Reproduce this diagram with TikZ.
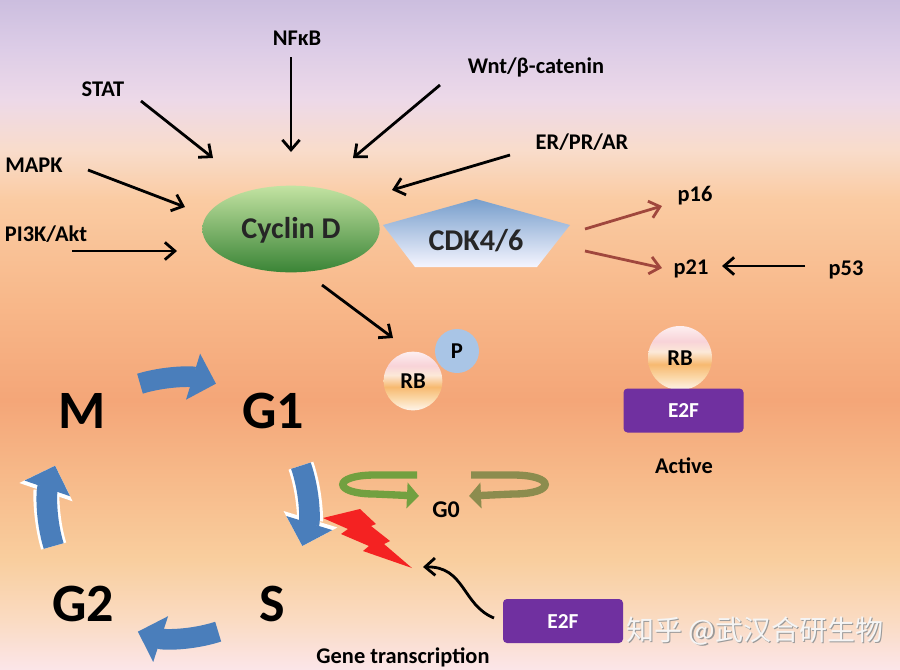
\documentclass[tikz,border=0pt]{standalone}
\usepackage{fontspec}
\setmainfont{Carlito}
\newfontfamily\cjkfont{Noto Sans CJK SC}
\usetikzlibrary{arrows.meta,calc,shapes.geometric}

\definecolor{bgA}{HTML}{CCBEDF}
\definecolor{bgB}{HTML}{DDCDE7}
\definecolor{bgC}{HTML}{EDD9E8}
\definecolor{bgD}{HTML}{F9DCCB}
\definecolor{bgE}{HTML}{FACBA2}
\definecolor{bgF}{HTML}{F8B88A}
\definecolor{bgG}{HTML}{F4A678}
\definecolor{bgH}{HTML}{F7BA8A}
\definecolor{bgI}{HTML}{F9CE9E}
\definecolor{bgJ}{HTML}{FADBC2}
\definecolor{bgK}{HTML}{FBE5E8}
\definecolor{brn}{HTML}{A0473D}
\definecolor{cycblue}{HTML}{4A7EBB}
\definecolor{gzl}{HTML}{72A040}
\definecolor{gzr}{HTML}{8C8C4E}
\definecolor{boltred}{HTML}{F42222}
\definecolor{e2fpurple}{HTML}{7030A0}
\definecolor{pblue}{HTML}{A9C5E6}
\definecolor{rbtop}{HTML}{FDEFF0}
\definecolor{rbpink}{HTML}{F8D3D8}
\definecolor{rbmid}{HTML}{FCE9D8}
\definecolor{rbor}{HTML}{F7B970}
\definecolor{rbl}{HTML}{FBD8A8}
\definecolor{rbbot}{HTML}{FEF4EA}
\definecolor{cdtop}{HTML}{C3E3A2}
\definecolor{cdmid}{HTML}{72B255}
\definecolor{cdbot}{HTML}{3A8436}

\pgfdeclareverticalshading{bgshade}{100bp}{color(0bp)=(bgK); color(25bp)=(bgK); color(28.66bp)=(bgJ); color(33.15bp)=(bgI); color(39.13bp)=(bgH); color(45.1bp)=(bgG); color(52.58bp)=(bgF); color(60.05bp)=(bgE); color(63.79bp)=(bgD); color(67.53bp)=(bgC); color(71.26bp)=(bgB); color(75bp)=(bgA); color(100bp)=(bgA)}
\pgfdeclareverticalshading{rbball}{100bp}{color(0bp)=(rbbot); color(25bp)=(rbbot); color(35bp)=(rbl); color(45bp)=(rbor); color(55bp)=(rbmid); color(63bp)=(rbpink); color(75bp)=(rbtop); color(100bp)=(rbtop)}

\tikzset{
  lab/.style={font=\bfseries\fontsize{16.8}{20}\selectfont, inner sep=0pt},
  midlab/.style={font=\bfseries\fontsize{22.6}{26}\selectfont, inner sep=0pt},
  big/.style={font=\bfseries\fontsize{40.5}{46}\selectfont, inner sep=0pt},
  arr/.style={line width=2.1pt, -{Straight Barb[length=7.5pt,width=13pt]}},
  brarr/.style={arr, draw=brn},
  cycarr/.style={draw=cycblue, line width=15.5pt, -{Triangle[length=18pt,width=35pt]}},
  cycout/.style={cycarr, preaction={draw=white, line width=19.5pt, -{Triangle[length=21pt,width=41pt]}}},
  gzarr/.style={line width=5.5pt, -{Triangle[length=9pt,width=19pt]}},
  ball/.style={circle, shade, shading=rbball, inner sep=0pt, font=\bfseries\fontsize{17}{19}\selectfont},
  e2fbox/.style={rectangle, rounded corners=3pt, fill=e2fpurple, text=white, font=\bfseries\fontsize{16}{18}\selectfont},
}

\begin{document}
\begin{tikzpicture}[x=0.75pt, y=-0.75pt]
% background
\fill[shading=bgshade] (0,0) rectangle (900,669);
\useasboundingbox (0,0) rectangle (900,669);

% upstream labels
\node[lab] (nfkb) at (297,38) {NFκB};
\node[lab] (stat) at (103,89) {STAT};
\node[lab] (wnt) at (536,67) {Wnt/β-catenin};
\node[lab] (er) at (582,142) {ER/PR/AR};
\node[lab] (mapk) at (34,165) {MAPK};
\node[lab] (pi3k) at (46,234) {PI3K/Akt};

% Cyclin D and CDK4/6
\node[ellipse, minimum width=133pt, minimum height=65pt, top color=cdtop, middle color=cdmid, bottom color=cdbot, inner sep=0pt] (cycd) at (291,229) {};
\shade[top color=cycblue!75!white, bottom color=blue!4!white] (476,199) -- (570,225) -- (537,267) -- (415,267) -- (383,225) -- cycle;
\node[midlab, text=black!85] (cyctext) at (291,230) {Cyclin D};
\node[midlab, text=black!85] (cdk) at (476,241) {CDK4/6};

% arrows into Cyclin D
\coordinate (nfkbE) at (291,152);
\coordinate (nfkbS) at (291,57);
\coordinate (statS) at (141,101);
\coordinate (statE) at (213,158);
\coordinate (wntS) at (440,85);
\coordinate (wntE) at (353,158);
\coordinate (erS) at (510,155);
\coordinate (erE) at (392,190);
\coordinate (mapkS) at (88,170);
\coordinate (mapkE) at (185,207);
\coordinate (pi3kS) at (72,251);
\coordinate (pi3kE) at (177,251);
\draw[arr] (nfkbS) -- (nfkbE);
\draw[arr] (statS) -- (statE);
\draw[arr] (wntS) -- (wntE);
\draw[arr] (erS) -- (erE);
\draw[arr] (mapkS) -- (mapkE);
\draw[arr] (pi3kS) -- (pi3kE);

% p16 / p21 / p53
\node[lab] (p16) at (695,196) {p16};
\node[lab] (p21) at (691,269) {p21};
\node[lab] (p53) at (846,270) {p53};
\coordinate (cdkA) at (585,229);
\coordinate (cdkB) at (585,251);
\coordinate (p16E) at (662,206);
\coordinate (p21E) at (662,268);
\coordinate (p53S) at (805,266);
\coordinate (p21R) at (722,266);
\draw[brarr] (cdkA) -- (p16E);
\draw[brarr] (cdkB) -- (p21E);
\draw[arr] (p53S) -- (p21R);

% RB-P
\node[circle, fill=pblue, minimum size=33pt, inner sep=0pt, font=\bfseries\fontsize{17}{19}\selectfont] (p) at (457,351) {P};
\node[ball, minimum size=44pt] (rbp) at (413,381) {RB};
\coordinate (cycdOut) at (322,285);
\coordinate (rbIn) at (393,338);
\draw[arr] (cycdOut) -- (rbIn);

% RB / E2F active
\node[ball, minimum size=48pt] (rb2) at (680,358) {RB};
\node[e2fbox, minimum width=90pt, minimum height=33pt] (e2f1) at (683.5,410.5) {E2F};
\node[lab] (active) at (684,466) {Active};

% cell cycle
\node[big] (M) at (82,411) {M};
\node[big] (G1) at (273,411) {G1};
\node[big] (S) at (272,604) {S};
\node[big] (G2) at (83,604) {G2};
\coordinate (cc) at (178,508);
\draw[cycarr] ($(cc)+(253:130)$) arc[start angle=253, end angle=287, radius=130];
\draw[cycout] ($(cc)+(-19:130)$) arc[start angle=-19, end angle=17, radius=130];
\draw[cycarr] ($(cc)+(72:130)$) arc[start angle=72, end angle=108, radius=130];
\draw[cycout] ($(cc)+(163:130)$) arc[start angle=163, end angle=199, radius=130];

% G0
\node[font=\bfseries\fontsize{18}{21}\selectfont, inner sep=0pt] (g0) at (446,510) {G0};
\draw[gzarr, draw=gzl] (417,475) -- (375,475) .. controls (332,475) and (332,494) .. (375,494) -- (419,496);
\draw[gzarr, draw=gzr] (471,475) -- (513,475) .. controls (556,475) and (556,494) .. (513,494) -- (469,496);

% lightning
\fill[boltred] (323,518) -- (360,509) -- (376,524) -- (371,526) -- (390,541) -- (384,544) -- (412,568) -- (363,551) -- (369,546) -- (341,534) -- (348,529) -- cycle;

% E2F bottom
\node[e2fbox, minimum width=90pt, minimum height=33pt] (e2f2) at (563,621) {E2F};
\coordinate (e2fOut) at (494,618);
\coordinate (boltEnd) at (423,567);
\draw[line width=2.1pt, -{Straight Barb[length=7.5pt,width=13pt]}] (e2fOut) .. controls (462,605) and (465,566) .. (boltEnd);
\node[lab] (gene) at (403,657) {Gene transcription};

% watermark
\node[font=\cjkfont\fontsize{21}{24}\selectfont, text=black!40, inner sep=0pt] (wmshadow) at (756.2,632.2) {知乎 @武汉合研生物};
\node[font=\cjkfont\fontsize{21}{24}\selectfont, text=white!96!black, inner sep=0pt] (wm) at (755,631) {知乎 @武汉合研生物};
\end{tikzpicture}
\end{document}
